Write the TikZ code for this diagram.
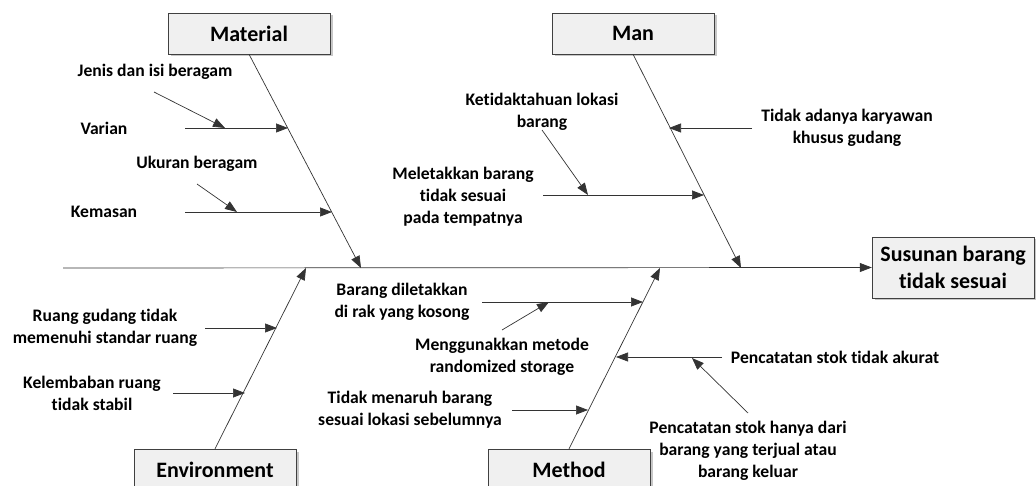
\documentclass[tikz,border=0pt]{standalone}
\usepackage{fontspec}
\setmainfont{Carlito}[Ligatures=NoCommon]
\usetikzlibrary{arrows.meta,shadows}

\tikzset{
	catbox/.style={draw=black!75, fill=black!6, minimum width=162pt, minimum height=41pt,
		font=\fontsize{22}{27}\selectfont\bfseries,
		drop shadow={shadow xshift=2.5pt, shadow yshift=-2.5pt, fill=black!22, opacity=1}},
	cause/.style={align=center, inner sep=0pt, font=\fontsize{17.6}{22}\selectfont\bfseries},
	bone/.style={draw=black!80, line width=.7pt, -{Triangle[length=12pt,width=9pt]}}
}

\begin{document}
\begin{tikzpicture}[x=1pt, y=-1pt]
				\useasboundingbox (0,0) rectangle (1036,486);
				% categories and effect
				\node[catbox] (material) at (249,33.5) {Material};
				\node[catbox] (man) at (633,33.5) {Man};
				\node[catbox] (environment) at (215,469.5) {Environment};
				\node[catbox] (method) at (569,469.5) {Method};
				\node[catbox, minimum height=61pt, align=center] (effect) at (953,267.5) {Susunan barang\\tidak sesuai};
				% spine and bones
				\coordinate (tail) at (63,268);
				\coordinate (matend) at (361,268);
				\coordinate (manend) at (741,268);
				\coordinate (envend) at (306,268);
				\coordinate (metend) at (660,268);
				\draw[bone] (tail) -- (effect.west);
				\draw[bone] (material.south) -- (matend);
				\draw[bone] (man.south) -- (manend);
				\draw[bone] (environment.north) -- (envend);
				\draw[bone] (method.north) -- (metend);
				% causes
				\node[cause] (jenis) at (155,72) {Jenis dan isi beragam};
				\node[cause] (varian) at (104,128) {Varian};
				\node[cause] (ukuran) at (197,164) {Ukuran beragam};
				\node[cause] (kemasan) at (104,212) {Kemasan};
				\node[cause] (ketidak) at (542,112) {Ketidaktahuan lokasi\\barang};
				\node[cause] (karyawan) at (847,127.5) {Tidak adanya karyawan\\khusus gudang};
				\node[cause] (meletak) at (463,197) {Meletakkan barang\\tidak sesuai\\pada tempatnya};
				\node[cause] (ruang) at (105,328) {Ruang gudang tidak\\memenuhi standar ruang};
				\node[cause] (lembab) at (92,393) {Kelembaban ruang\\tidak stabil};
				\node[cause] (rak) at (402,302) {Barang diletakkan\\di rak yang kosong};
				\node[cause] (random) at (502,357) {Menggunakkan metode\\randomized storage};
				\node[cause] (menaruh) at (410,410) {Tidak menaruh barang\\sesuai lokasi sebelumnya};
				\node[cause] (akurat) at (835,357) {Pencatatan stok tidak akurat};
				\node[cause] (hanya) at (748,451) {Pencatatan stok hanya dari\\barang yang terjual atau\\barang keluar};
				% arrow ends
				\coordinate (v0) at (185,128);  \coordinate (v1) at (288,128);
				\coordinate (j0) at (154,92);   \coordinate (j1) at (225,128);
				\coordinate (k0) at (185,212);  \coordinate (k1) at (332,212);
				\coordinate (u0) at (197,184);  \coordinate (u1) at (237,212);
				\coordinate (t0) at (752,128);  \coordinate (t1) at (669,128);
				\coordinate (l0) at (543,195);  \coordinate (l1) at (704,195);
				\coordinate (x0) at (542,130);  \coordinate (x1) at (588,195);
				\coordinate (r0) at (205,328);  \coordinate (r1) at (277,328);
				\coordinate (e0) at (173,393);  \coordinate (e1) at (245,393);
				\coordinate (b0) at (482,302);  \coordinate (b1) at (643,302);
				\coordinate (g0) at (502,330);  \coordinate (g1) at (549,302);
				\coordinate (n0) at (512,410);  \coordinate (n1) at (588,410);
				\coordinate (p0) at (722,357);  \coordinate (p1) at (616,357);
				\coordinate (h0) at (748,413);  \coordinate (h1) at (692,358);
				\foreach \a/\b in {v0/v1, j0/j1, k0/k1, u0/u1, t0/t1, l0/l1, x0/x1,
						r0/r1, e0/e1, b0/b1, g0/g1, n0/n1, p0/p1, h0/h1}
					\draw[bone] (\a) -- (\b);
			\end{tikzpicture}
\end{document}
